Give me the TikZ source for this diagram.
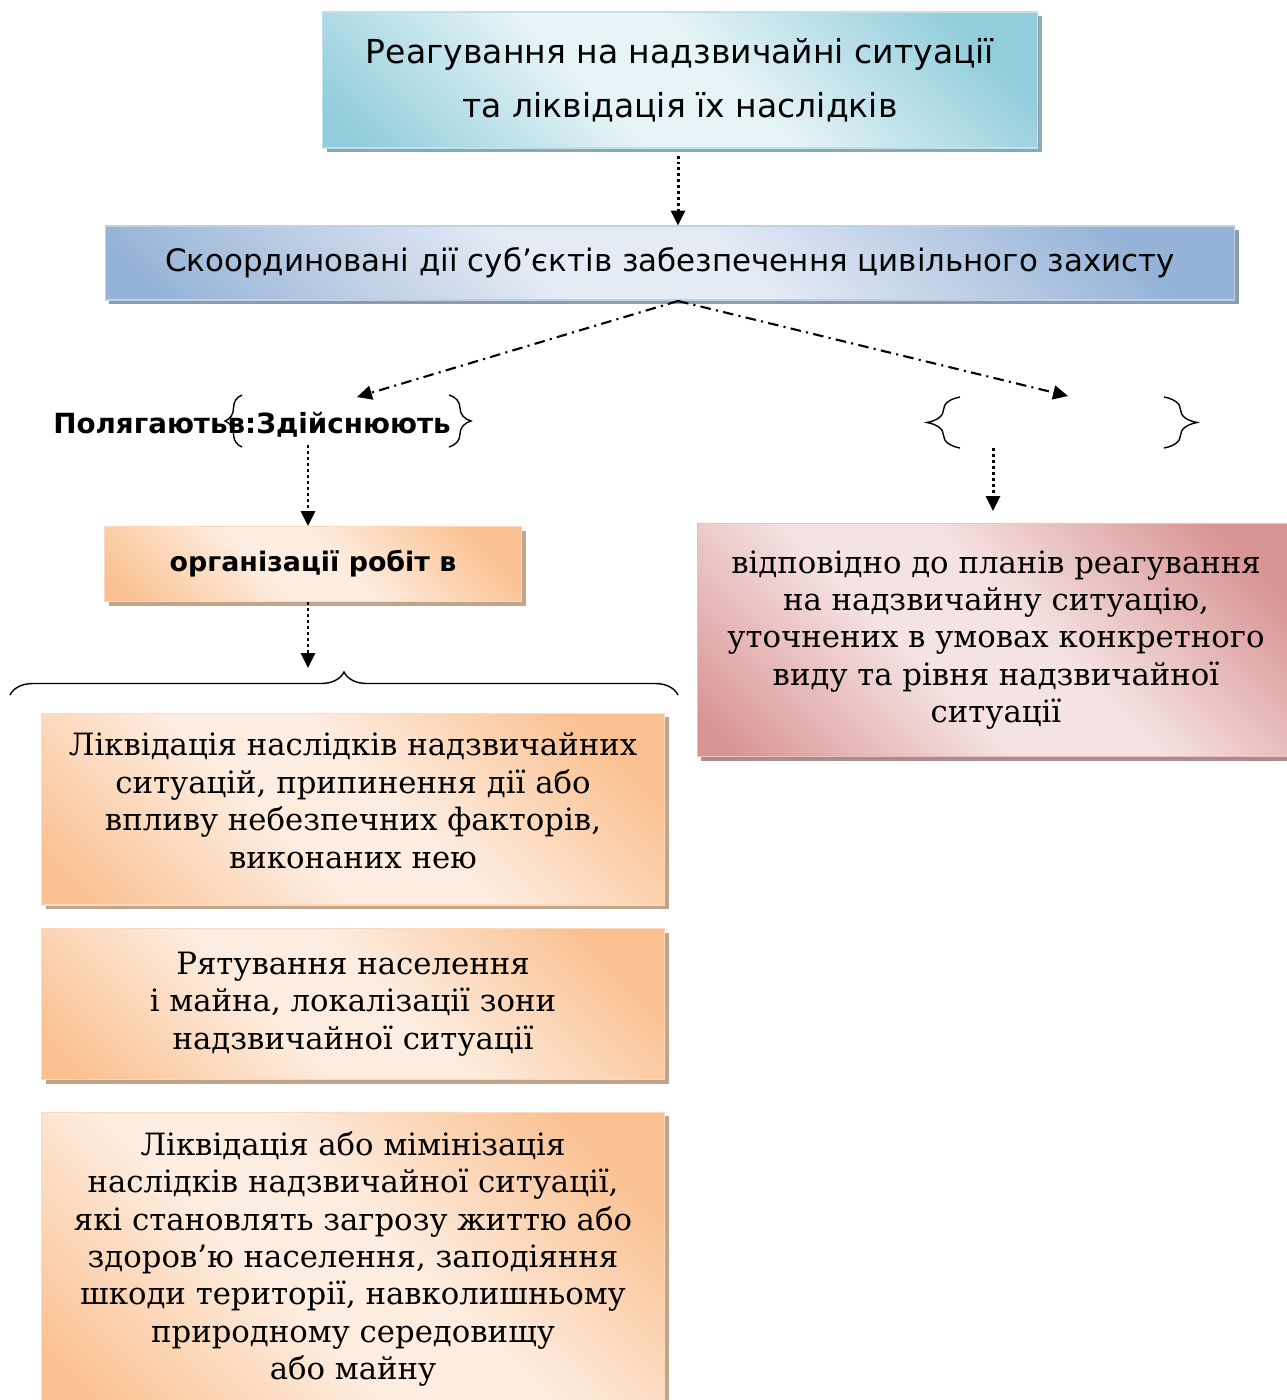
\documentclass[tikz,border=0pt]{standalone}
\usepackage{fontspec}
\setmainfont{DejaVu Serif}
\setsansfont{DejaVu Sans}
\usetikzlibrary{arrows.meta}
\usetikzlibrary{shadows}
\usetikzlibrary{decorations.pathreplacing}

\definecolor{cyanD}{HTML}{92CDDC}
\definecolor{cyanL}{HTML}{E6F4F7}
\definecolor{blueD}{HTML}{95B3D7}
\definecolor{blueL}{HTML}{E4EBF5}
\definecolor{orangeD}{HTML}{FAC090}
\definecolor{orangeL}{HTML}{FDEDE0}
\definecolor{redD}{HTML}{D99594}
\definecolor{redL}{HTML}{F5E3E3}

\pgfdeclareverticalshading{cyanshade}{100bp}{color(0bp)=(cyanD); color(22bp)=(cyanD); color(46bp)=(cyanL); color(58bp)=(cyanL); color(82bp)=(cyanD); color(100bp)=(cyanD)}
\pgfdeclareverticalshading{blueshade}{100bp}{color(0bp)=(blueD); color(22bp)=(blueD); color(46bp)=(blueL); color(58bp)=(blueL); color(82bp)=(blueD); color(100bp)=(blueD)}
\pgfdeclareverticalshading{orangeshade}{100bp}{color(0bp)=(orangeD); color(22bp)=(orangeD); color(46bp)=(orangeL); color(58bp)=(orangeL); color(82bp)=(orangeD); color(100bp)=(orangeD)}
\pgfdeclareverticalshading{redshade}{100bp}{color(0bp)=(redD); color(22bp)=(redD); color(46bp)=(redL); color(58bp)=(redL); color(82bp)=(redD); color(100bp)=(redD)}

\begin{document}
\begin{tikzpicture}[x=0.02cm,y=-0.02cm,
    box/.style={draw=#1D!60, line width=0.6pt, inner sep=0pt, align=center,
        shading=#1shade, shading angle=135,
        drop shadow={shadow xshift=2.4pt, shadow yshift=-2.4pt, fill=#1D!55!gray, opacity=1}},
    headtxt/.style={font=\sffamily\fontsize{18.8}{30.5}\selectfont},
    bodytxt/.style={font=\fontsize{17.5}{21.3}\selectfont},
    dotarrow/.style={line width=1.7pt, dash pattern=on 1.7pt off 1.7pt, -{Triangle[width=8pt,length=8.5pt]}},
    dasharrow/.style={line width=1.2pt, dash pattern=on 6pt off 3pt on 1.2pt off 3pt, -{Triangle[width=8pt,length=8.5pt]}},
    curly/.style={decorate, decoration={brace, amplitude=#1}, line width=0.8pt}]
    \useasboundingbox (0,0) rectangle (1287,1400);

    \node[box=cyan, headtxt, minimum width=14.3cm, minimum height=2.72cm] (react) at (680,80)
        {Реагування на надзвичайні ситуації\\та ліквідація їх наслідків};
    \node[box=blue, font=\sffamily\fontsize{17.6}{20}\selectfont, minimum width=22.6cm, minimum height=1.48cm] (coord) at (670,263)
        {Скоординовані дії суб’єктів забезпечення цивільного захисту};
    \coordinate (split) at (678,301);
    \coordinate (lefttip) at (357,397);
    \coordinate (righttip) at (1068,396);
    \draw[dotarrow, shorten <=7pt*0.57] (react.south -| split) -- (coord.north -| split);
    \draw[dasharrow] (split) -- (lefttip);
    \draw[dasharrow] (split) -- (righttip);

    \node[font=\sffamily\bfseries\fontsize{15.8}{18}\selectfont, inner sep=0pt] (consist) at (252,425) {Полягаютьв:Здійснюють};
    \draw[curly=0.34cm] (242,447) -- (242,395);
    \draw[curly=0.44cm] (449,395) -- (449,447);
    \draw[curly=0.66cm] (960,448) -- (960,397);
    \draw[curly=0.66cm] (1164,397) -- (1164,448);
    \coordinate (rightbr) at (993,448);

    \node[box=orange, font=\sffamily\bfseries\fontsize{15.3}{18}\selectfont, minimum width=8.34cm, minimum height=1.5cm] (org) at (313,564)
        {організації робіт в};
    \node[box=red, bodytxt, minimum width=11.96cm, minimum height=4.66cm] (plans) at (996,640)
        {відповідно до планів реагування\\на надзвичайну ситуацію,\\уточнених в умовах конкретного\\виду та рівня надзвичайної\\ситуації};
    \coordinate (bracetop) at (308,668);
    \draw[dotarrow, shorten <=4pt] (consist.south -| bracetop) -- (org.north -| bracetop);
    \draw[dotarrow, shorten >=12pt*0.57] (rightbr) -- (rightbr |- plans.north);

    \draw[dotarrow] (org.south -| bracetop) -- (bracetop);
    \draw[curly=0.46cm] (10,695) -- (678,695);

    \node[box=orange, bodytxt, text depth=0.34cm, minimum width=12.46cm, minimum height=3.84cm] (elim) at (353,809)
        {Ліквідація наслідків надзвичайних\\ситуацій, припинення дії або\\впливу небезпечних факторів,\\виконаних нею};
    \node[box=orange, bodytxt, minimum width=12.46cm, minimum height=3.02cm] (rescue) at (353,1004)
        {Рятування населення\\і майна, локалізації зони\\надзвичайної ситуації};
    \node[box=orange, bodytxt, minimum width=12.46cm, minimum height=5.88cm] (minim) at (353,1259)
        {Ліквідація або мімінізація\\наслідків надзвичайної ситуації,\\які становлять загрозу життю або\\здоров’ю населення, заподіяння\\шкоди території, навколишньому\\природному середовищу\\або майну};
\end{tikzpicture}
\end{document}
